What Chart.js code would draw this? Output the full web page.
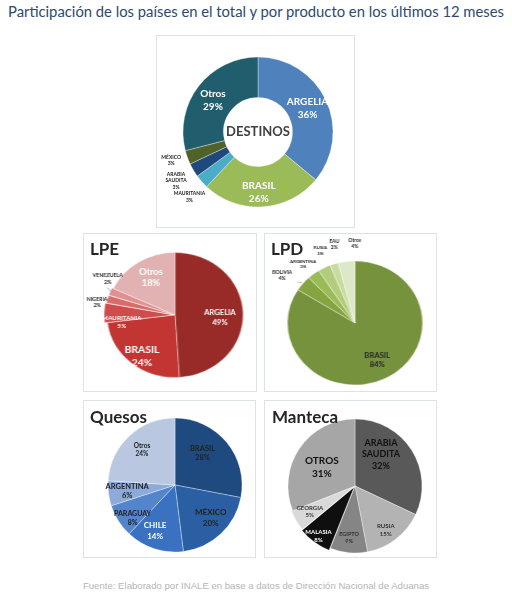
<!DOCTYPE html>
<html lang="es">
<head>
<meta charset="utf-8">
<script src="https://cdn.jsdelivr.net/npm/chart.js@4.4.1/dist/chart.umd.min.js"></script>
<style>
  body { margin: 0; width: 512px; height: 600px; background: #fff; position: relative; overflow: hidden; font-family: Lato, "Open Sans", sans-serif; }
  .title { position: absolute; left: 8px; top: 2px; font-size: 14.8px; color: #2d4a6e; white-space: nowrap; }
  .panel { position: absolute; border: 1px solid #dde2e8; background: #fff; }
  .panel canvas { position: absolute; left: 0; top: 0; }
  .panel h3 { position: absolute; margin: 0; left: 6px; top: 6px; font-size: 17px; line-height: 17px; font-weight: 700; color: #262626; z-index: 2; }
  .source { position: absolute; left: 0; top: 580px; width: 512px; text-align: center; font-family: "Liberation Sans", Arial, sans-serif; font-size: 9.6px; color: #b5b5b5; }
</style>
</head>
<body>
<div class="title">Participación de los países en el total y por producto en los últimos 12 meses</div>

<div class="panel" style="left:156px; top:35px; width:197px; height:191px;"><canvas id="destinosChart"></canvas></div>
<div class="panel" style="left:83px; top:233px; width:172px; height:157px;"><h3>LPE</h3><canvas id="lpeChart"></canvas></div>
<div class="panel" style="left:264px; top:233px; width:171px; height:157px;"><h3>LPD</h3><canvas id="lpdChart"></canvas></div>
<div class="panel" style="left:83px; top:400px; width:171px; height:156px;"><h3 style="top:7px">Quesos</h3><canvas id="quesosChart"></canvas></div>
<div class="panel" style="left:264px; top:400px; width:171px; height:156px;"><h3 style="top:7px; left:7px">Manteca</h3><canvas id="mantecaChart"></canvas></div>

<div class="source">Fuente: Elaborado por INALE en base a datos de Dirección Nacional de Aduanas</div>

<script>
// shares (%), clockwise from 12 o'clock
const destinosNames = ['ARGELIA', 'BRASIL', 'MAURITANIA', 'ARABIA\nSAUDITA', 'MÉXICO', 'Otros'];
const destinosShares = [36, 26, 3, 3, 3, 29];

const lpeNames = ['ARGELIA', 'BRASIL', 'MAURITANIA', 'NIGERIA', 'VENEZUELA', 'Otros'];
const lpeShares = [49, 24, 5, 2, 2, 18];

const lpdNames = ['BRASIL', 'BOLIVIA', 'ARGENTINA', 'RUSIA', 'EAU', 'Otros'];
const lpdShares = [84, 4, 3, 3, 2, 4];

const quesosNames = ['BRASIL', 'MÉXICO', 'CHILE', 'PARAGUAY', 'ARGENTINA', 'Otros'];
const quesosShares = [28, 20, 14, 8, 6, 24];

const mantecaNames = ['ARABIA\nSAUDITA', 'RUSIA', 'EGIPTO', 'MALASIA', 'GEORGIA', 'OTROS'];
const mantecaShares = [32, 15, 9, 8, 5, 31];

// slice labels: radius factor along the mid angle, nudge, colour, size
const sliceLabels = {
  id: 'sliceLabels',
  afterDatasetsDraw(chart, args, opts) {
    const { ctx } = chart;
    const meta = chart.getDatasetMeta(0);
    const names = chart.data.labels;
    const values = chart.data.datasets[0].data;

    meta.data.forEach((arc, i) => {
      const spot = opts.spots[i];
      const { x, y, startAngle, endAngle, outerRadius } = arc.getProps(['x', 'y', 'startAngle', 'endAngle', 'outerRadius'], true);
      const mid = (startAngle + endAngle) / 2;
      const px = x + Math.cos(mid) * outerRadius * spot.r + (spot.dx || 0);
      const py = y + Math.sin(mid) * outerRadius * spot.r + (spot.dy || 0);

      ctx.save();
      if (spot.leader) {
        const ex = x + Math.cos(mid) * (outerRadius + 1);
        const ey = y + Math.sin(mid) * (outerRadius + 1);
        ctx.strokeStyle = '#8da9c9';
        ctx.lineWidth = 0.8;
        ctx.beginPath();
        ctx.moveTo(ex, ey);
        ctx.lineTo(ex + spot.leader[0], ey + spot.leader[1]);
        ctx.stroke();
      }
      const lines = names[i].split('\n').concat(`${values[i]}%`);
      const lineHeight = spot.size * 1.3;
      ctx.font = `bold ${spot.size}px Lato, sans-serif`;
      ctx.fillStyle = spot.color;
      ctx.textAlign = 'center';
      ctx.textBaseline = 'middle';
      lines.forEach((line, k) => {
        ctx.fillText(line, px, py + (k - (lines.length - 1) / 2) * lineHeight);
      });
      ctx.restore();
    });

    if (opts.center) {
      const arc = meta.data[0];
      ctx.save();
      ctx.font = 'bold 13px Lato, sans-serif';
      ctx.fillStyle = '#404040';
      ctx.textAlign = 'center';
      ctx.textBaseline = 'middle';
      ctx.fillText(opts.center, arc.x, arc.y);
      ctx.restore();
    }
  }
};

function makePie(canvasId, names, shares, colors, frame, spots, extra = {}) {
  const canvas = document.getElementById(canvasId);
  canvas.width = frame.w;
  canvas.height = frame.h;
  if (frame.sx) {
    // the source pies are a little wider than tall
    canvas.style.transformOrigin = `${frame.cx}px 0`;
    canvas.style.transform = `scaleX(${frame.sx})`;
  }

  const padX = 2 * frame.cx - frame.w;
  const padY = 2 * frame.cy - frame.h;

  return new Chart(canvas, {
    type: extra.cutout ? 'doughnut' : 'pie',
    data: {
      labels: names,
      datasets: [{
        data: shares,
        backgroundColor: colors,
        borderColor: 'rgba(255,255,255,0.35)',
        borderWidth: 1,
        offset: extra.offset || 0
      }]
    },
    options: {
      responsive: false,
      animation: false,
      radius: frame.r,
      cutout: extra.cutout || 0,
      layout: {
        padding: {
          left: Math.max(padX, 0),
          right: Math.max(-padX, 0),
          top: Math.max(padY, 0),
          bottom: Math.max(-padY, 0)
        }
      },
      plugins: {
        legend: { display: false },
        tooltip: { enabled: false },
        sliceLabels: { spots, center: extra.center }
      }
    },
    plugins: [sliceLabels]
  });
}

document.addEventListener('DOMContentLoaded', () => {
  makePie('destinosChart', destinosNames, destinosShares,
    ['#4f81bd', '#9bbb59', '#4bacc6', '#1f497d', '#4f6228', '#215e6d'],
    { w: 197, h: 191, cx: 101, cy: 96, r: 75 },
    [
      { r: 0.73, color: '#fff', size: 10 },
      { r: 0.8, dx: -3, color: '#fff', size: 10 },
      { r: 1.13, dx: -5, dy: 9, color: '#222', size: 5 },
      { r: 1.27, color: '#222', size: 5 },
      { r: 1.23, dy: -3, color: '#222', size: 5 },
      { r: 0.76, dy: 3, color: '#fff', size: 10 }
    ],
    { cutout: '46%', center: 'DESTINOS' });

  makePie('lpeChart', lpeNames, lpeShares,
    ['#982a28', '#c23533', '#d04b4b', '#d96b6b', '#e28f8f', '#e2b1b2'],
    { w: 172, h: 157, cx: 91, cy: 81, r: 62.5, sx: 1.09 },
    [
      { r: 0.66, dy: 4, color: '#fff', size: 7 },
      { r: 0.76, dy: 5, color: '#fff', size: 9.5 },
      { r: 0.83, dx: 3, dy: 9, color: '#fff', size: 5.8 },
      { r: 1.18, dy: 6, color: '#222', size: 4.8 },
      { r: 1.2, dx: 8, dy: -8.5, color: '#222', size: 4.8, leader: [-3, -4] },
      { r: 0.66, dy: -2, color: '#fff', size: 8.5 }
    ],
    { offset: [0, 0, 6, 3, 3, 0] });

  makePie('lpdChart', lpdNames, lpdShares,
    ['#76923c', '#86a43f', '#9bbb59', '#b1cc7c', '#c8dca0', '#dde8c8'],
    { w: 171, h: 157, cx: 90, cy: 89, r: 62, sx: 1.09 },
    [
      { r: 0.68, color: '#262626', size: 7 },
      { r: 1.2, dx: -9.5, color: '#222', size: 4.6, leader: [-4, -1] },
      { r: 1.2, dx: -2, color: '#222', size: 4.2 },
      { r: 1.2, dx: 2, dy: -6, color: '#222', size: 4.2 },
      { r: 1.2, dx: 4, dy: -8, color: '#222', size: 4.6 },
      { r: 1.2, dx: 9, dy: -6, color: '#222', size: 4.6 }
    ]);

  makePie('quesosChart', quesosNames, quesosShares,
    ['#1f4a80', '#2b5fa3', '#3a71c0', '#5484ca', '#8cabd9', '#b9c7e0'],
    { w: 171, h: 156, cx: 91, cy: 84, r: 67 },
    [
      { r: 0.63, dx: -5, dy: -5, color: '#222', size: 7.5 },
      { r: 0.67, dx: 5, color: '#222', size: 8 },
      { r: 0.72, dx: -5, color: '#fff', size: 8 },
      { r: 0.75, dy: 6, color: '#222', size: 7 },
      { r: 0.72, color: '#222', size: 7.5 },
      { r: 0.72, color: '#222', size: 6.5 }
    ]);

  makePie('mantecaChart', mantecaNames, mantecaShares,
    ['#595959', '#b3b3b3', '#858585', '#0f0f0f', '#d9d9d9', '#a6a6a6'],
    { w: 171, h: 156, cx: 90, cy: 85, r: 67 },
    [
      { r: 0.6, dx: -8, dy: -10, color: '#111', size: 9 },
      { r: 0.75, dy: 4, color: '#333', size: 6 },
      { r: 0.78, dx: -1, color: '#333', size: 5.5 },
      { r: 0.8, dx: -5, dy: 7, color: '#fff', size: 6 },
      { r: 0.75, dx: -2, color: '#333', size: 6 },
      { r: 0.67, dx: 4, dy: 7, color: '#111', size: 10 }
    ],
    { offset: [0, 0, 0, 6, 3, 0] });
});
</script>
</body>
</html>
